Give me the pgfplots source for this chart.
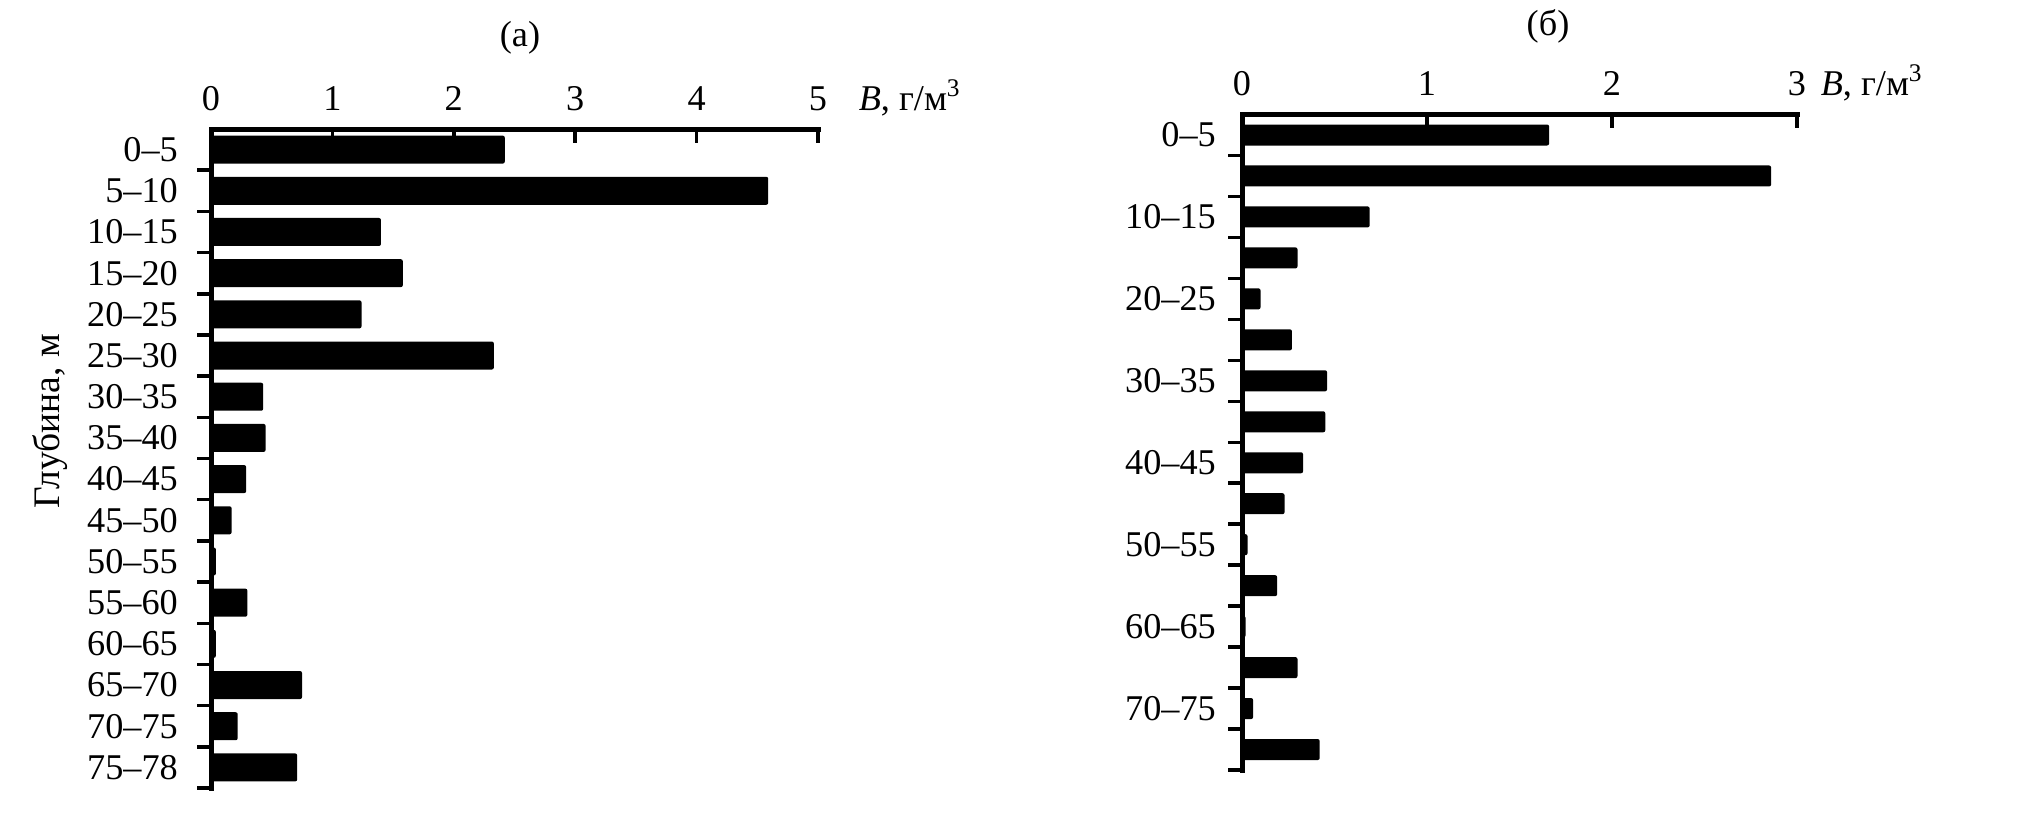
\documentclass[border=0pt]{standalone}
\usepackage{pgfplots}
\pgfplotsset{compat=1.18}
\usepackage{fontspec}
\setmainfont{Liberation Serif}
\newcommand{\tf}{\fontsize{14.5pt}{17pt}\selectfont}
\begin{document}
\begin{tikzpicture}
\path[use as bounding box] (0pt,0pt) rectangle (810.8pt,-327.6pt);
\pgfplotsset{
  depthbar/.style={
    scale only axis,
    anchor=north west,
    axis x line*=top,
    axis y line*=left,
    axis line style={line width=2pt, line cap=rect},
    tick align=inside,
    major tick length=5.5pt,
    tick style={line width=1.4pt, black},
    y dir=reverse,
    ymin=-0.5, ymax=15.5,
    xmin=0,
    ytick={0.5,1.5,...,15.5},
    yticklabels={,,},
    extra y ticks={0,1,...,15},
    extra y tick style={tick style={draw=none}},
    xbar, bar shift=0pt,
    clip=false,
    /pgf/number format/assume math mode=true,
    every tick label/.append style={font=\tf},
    xticklabel style={anchor=base, inner sep=0pt, yshift=7.6pt},
  }
}
% ---------- (a) ----------
\begin{axis}[depthbar,
  at={(84.4pt,-51.6pt)},
  width=242.8pt, height=263.6pt,
  xmax=5, xtick={0,1,2,3,4,5},
  bar width=11.2pt,
  yticklabel style={anchor=east, inner sep=0pt, xshift=-7.6pt},
  extra y tick labels={0--5,5--10,10--15,15--20,20--25,25--30,30--35,35--40,40--45,45--50,50--55,55--60,60--65,65--70,70--75,75--78},
]
\addplot[fill=black, draw=none, rounded corners=0.8pt] coordinates {
 (2.42,0) (4.59,1) (1.40,2) (1.58,3) (1.24,4) (2.33,5) (0.43,6) (0.45,7)
 (0.29,8) (0.17,9) (0.04,10) (0.30,11) (0.04,12) (0.75,13) (0.22,14) (0.71,15)};
\node[anchor=base west, font=\tf, xshift=12.8pt, yshift=7.6pt] at (rel axis cs:1,1) {\textit{B}, г/м\textsuperscript{3}};
\end{axis}
% ---------- (б) ----------
\begin{axis}[depthbar,
  at={(496.8pt,-45.8pt)},
  width=222pt, height=262.2pt,
  xmax=3, xtick={0,1,2,3},
  bar width=8.4pt,
  yticklabel style={anchor=east, inner sep=0pt, xshift=-4.8pt},
  extra y tick labels={0--5,{},10--15,{},20--25,{},30--35,{},40--45,{},50--55,{},60--65,{},70--75,{}},
]
\addplot[fill=black, draw=none, rounded corners=0.8pt] coordinates {
 (1.66,0) (2.86,1) (0.69,2) (0.30,3) (0.10,4) (0.27,5) (0.46,6) (0.45,7)
 (0.33,8) (0.23,9) (0.03,10) (0.19,11) (0.02,12) (0.30,13) (0.06,14) (0.42,15)};
\node[anchor=base west, font=\tf, xshift=6pt, yshift=7.8pt] at (rel axis cs:1,1) {\textit{B}, г/м\textsuperscript{3}};
\end{axis}
% titles and y label
\node[font=\tf] at (208pt,-15.2pt) {(а)};
\node[font=\tf] at (619.2pt,-10.4pt) {(б)};
\node[font=\fontsize{15pt}{18pt}\selectfont, rotate=90, anchor=base] at (23.6pt,-168.4pt) {Глубина, м};
\end{tikzpicture}
\end{document}
